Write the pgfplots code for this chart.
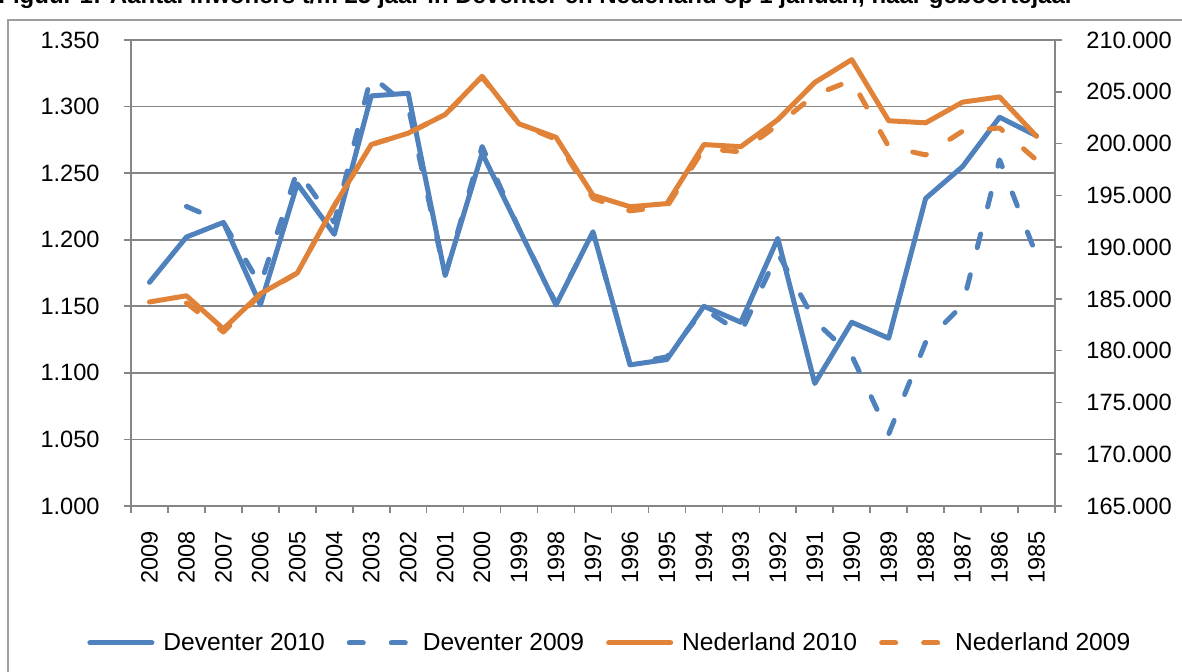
\documentclass[border=0pt]{standalone}
\usepackage{fontspec}
\setmainfont{Liberation Sans}
\usepackage{pgfplots}
\pgfplotsset{compat=1.18}
\definecolor{devblue}{RGB}{79,129,189}
\definecolor{nlorange}{RGB}{224,130,56}
\definecolor{gridgray}{RGB}{134,134,134}
\newcommand\lbl{\fontsize{11.8pt}{14pt}\selectfont}

\pgfplotsset{
  base/.style={
    scale only axis, width=462pt, height=233pt,
    at={(65.5pt,83pt)}, anchor=south west,
    xmin=-0.5, xmax=24.5,
    axis line style={gridgray, line width=0.8pt},
    major tick length=3.5pt, minor tick length=3.5pt,
    tick align=outside,
    tick style={gridgray, line width=0.8pt},
    every tick label/.append style={font=\lbl},
    scaled y ticks=false,
  },
  ser/.style={line width=2.5pt, line cap=round, line join=round},
  dsh/.style={dash pattern=on 7pt off 14pt},
}

\begin{document}
\begin{tikzpicture}
\path[use as bounding box] (0,0) rectangle (591pt,336pt);
% frame and cut-off caption
\draw[gridgray!80, line width=0.6pt] (600pt,326pt) -- (4pt,326pt) -- (4pt,-10pt);
\node[anchor=base west, inner sep=0pt, font=\bfseries\fontsize{12pt}{14pt}\selectfont]
  at (-1pt,334pt) {Figuur 1: Aantal inwoners t/m 25 jaar in Deventer en Nederland op 1 januari, naar geboortejaar};

% Deventer, left axis
\begin{axis}[base,
  ymin=1, ymax=1.35,
  ytick={1,1.05,1.1,1.15,1.2,1.25,1.3,1.35},
  yticklabels={1.000,1.050,1.100,1.150,1.200,1.250,1.300,1.350},
  ytick pos=left,
  ymajorgrids, grid style={gridgray, line width=0.8pt},
  yticklabel style={anchor=east, inner sep=0pt},
  yticklabel shift=12pt,
  xtick={0,...,24},
  xticklabels={2009,2008,2007,2006,2005,2004,2003,2002,2001,2000,1999,1998,1997,1996,1995,1994,1993,1992,1991,1990,1989,1988,1987,1986,1985},
  xtick pos=left,
  major x tick style={draw=none},
  minor xtick={-0.5,0.5,...,24.5},
  xticklabel style={rotate=90, anchor=east, inner sep=0pt},
  xticklabel shift=9pt,
]
\addplot[ser, devblue] coordinates {
  (0,1.168) (1,1.202) (2,1.213) (3,1.151) (4,1.242) (5,1.204) (6,1.308) (7,1.310)
  (8,1.173) (9,1.265) (10,1.208) (11,1.151) (12,1.206) (13,1.106) (14,1.110) (15,1.150)
  (16,1.138) (17,1.201) (18,1.092) (19,1.138) (20,1.126) (21,1.231) (22,1.255) (23,1.292) (24,1.278)};
\addplot[ser, devblue, dsh] coordinates {
  (1,1.225) (2,1.213) (3,1.166) (4,1.252) (5,1.213) (6,1.323) (7,1.300)
  (8,1.173) (9,1.270) (10,1.208) (11,1.152) (12,1.205) (13,1.107) (14,1.112) (15,1.148)
  (16,1.130) (17,1.190) (18,1.139) (19,1.113) (20,1.054) (21,1.123) (22,1.151) (23,1.260) (24,1.188)};
\end{axis}

% Nederland, right axis
\begin{axis}[base,
  axis y line*=right, axis x line=none,
  ymin=165000, ymax=210000,
  ytick={165000,170000,175000,180000,185000,190000,195000,200000,205000,210000},
  yticklabels={165.000,170.000,175.000,180.000,185.000,190.000,195.000,200.000,205.000,210.000},
  yticklabel style={anchor=west, inner sep=0pt},
  yticklabel shift=12pt,
  legend columns=4,
  legend cell align=left,
  legend image code/.code={\draw[#1] (1.25pt,0pt) -- (32.25pt,0pt);},
  legend style={font=\fontsize{12.3pt}{14pt}\selectfont, draw=none, fill=none,
    at={(0.522,-0.294)}, anchor=center,
    nodes={inner xsep=4.5pt},
    /tikz/every even column/.append style={column sep=6.5pt}},
]
\addlegendimage{ser, devblue}
\addlegendentry{Deventer 2010}
\addlegendimage{ser, devblue, dsh}
\addlegendentry{Deventer 2009}
\addplot[ser, nlorange] coordinates {
  (0,184700) (1,185300) (2,182100) (3,185500) (4,187500) (5,194000) (6,199900) (7,201000)
  (8,202800) (9,206500) (10,201900) (11,200600) (12,195000) (13,193900) (14,194200) (15,199900)
  (16,199700) (17,202300) (18,205900) (19,208100) (20,202200) (21,202000) (22,204000) (23,204500) (24,200700)};
\addlegendentry{Nederland 2010}
\addplot[ser, nlorange, dsh] coordinates {
  (1,184600) (2,181800) (3,185400) (4,187500) (5,194000) (6,199900) (7,201000)
  (8,202800) (9,206400) (10,201900) (11,200400) (12,194700) (13,193500) (14,193900) (15,199500)
  (16,199200) (17,201800) (18,204700) (19,206100) (20,199700) (21,198900) (22,201200) (23,201500) (24,198400)};
\addlegendentry{Nederland 2009}
\end{axis}
\end{tikzpicture}
\end{document}
